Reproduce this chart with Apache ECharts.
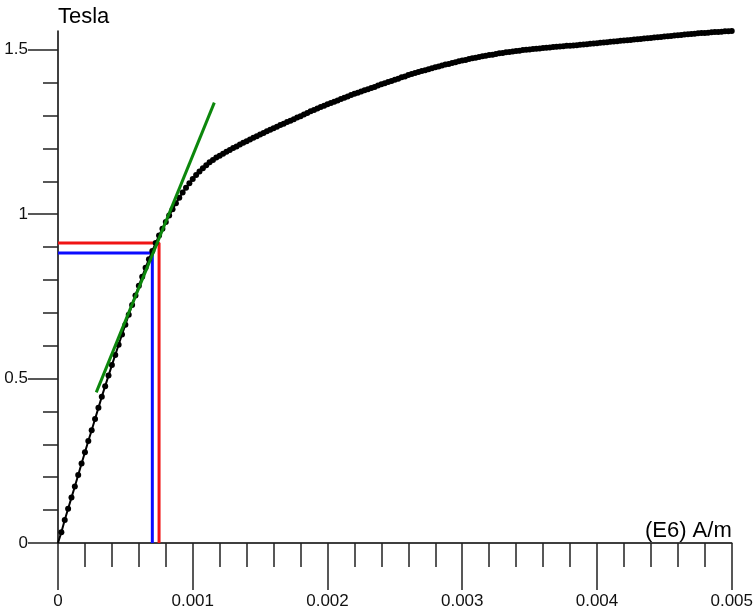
<!DOCTYPE html>
<html>
<head>
<meta charset="utf-8">
<script src="https://cdn.jsdelivr.net/npm/echarts@6/dist/echarts.min.js"></script>
<style>
  html, body { margin: 0; padding: 0; background: #ffffff; }
  #chart { width: 756px; height: 611px; }
</style>
</head>
<body>
<div id="chart"></div>
<script>
// Magnetisation curve: field strength H in A/m, flux density B in tesla
const fieldAm = [
  0, 25, 50, 75, 100, 125, 150, 175, 200, 225,
  250, 275, 300, 325, 350, 375, 400, 425, 450, 475,
  500, 525, 550, 575, 600, 625, 650, 675, 700, 725,
  750, 775, 800, 825, 850, 875, 900, 925, 950, 975,
  1000, 1025, 1050, 1075, 1100, 1125, 1150, 1175, 1200, 1225,
  1250, 1275, 1300, 1325, 1350, 1375, 1400, 1425, 1450, 1475,
  1500, 1525, 1550, 1575, 1600, 1625, 1650, 1675, 1700, 1725,
  1750, 1775, 1800, 1825, 1850, 1875, 1900, 1925, 1950, 1975,
  2000, 2025, 2050, 2075, 2100, 2125, 2150, 2175, 2200, 2225,
  2250, 2275, 2300, 2325, 2350, 2375, 2400, 2425, 2450, 2475,
  2500, 2525, 2550, 2575, 2600, 2625, 2650, 2675, 2700, 2725,
  2750, 2775, 2800, 2825, 2850, 2875, 2900, 2925, 2950, 2975,
  3000, 3025, 3050, 3075, 3100, 3125, 3150, 3175, 3200, 3225,
  3250, 3275, 3300, 3325, 3350, 3375, 3400, 3425, 3450, 3475,
  3500, 3525, 3550, 3575, 3600, 3625, 3650, 3675, 3700, 3725,
  3750, 3775, 3800, 3825, 3850, 3875, 3900, 3925, 3950, 3975,
  4000, 4025, 4050, 4075, 4100, 4125, 4150, 4175, 4200, 4225,
  4250, 4275, 4300, 4325, 4350, 4375, 4400, 4425, 4450, 4475,
  4500, 4525, 4550, 4575, 4600, 4625, 4650, 4675, 4700, 4725,
  4750, 4775, 4800, 4825, 4850, 4875, 4900, 4925, 4950, 4975,
  5000
];
const fluxB = [
  0, 0.033, 0.070, 0.104, 0.138, 0.172, 0.207, 0.242, 0.276, 0.310,
  0.343, 0.377, 0.411, 0.445, 0.477, 0.509, 0.541, 0.572, 0.603, 0.634,
  0.664, 0.694, 0.724, 0.753, 0.782, 0.810, 0.837, 0.863, 0.888, 0.912,
  0.935, 0.956, 0.976, 0.996, 1.015, 1.033, 1.050, 1.066, 1.080, 1.094,
  1.107, 1.119, 1.130, 1.140, 1.149, 1.158, 1.165, 1.172, 1.178, 1.184,
  1.190, 1.195, 1.201, 1.206, 1.212, 1.217, 1.222, 1.227, 1.232, 1.237,
  1.242, 1.247, 1.252, 1.257, 1.261, 1.266, 1.271, 1.275, 1.280, 1.284,
  1.289, 1.294, 1.298, 1.303, 1.308, 1.313, 1.317, 1.321, 1.326, 1.330,
  1.334, 1.338, 1.342, 1.346, 1.350, 1.354, 1.358, 1.362, 1.366, 1.369,
  1.373, 1.377, 1.380, 1.384, 1.387, 1.391, 1.395, 1.398, 1.402, 1.405,
  1.409, 1.412, 1.416, 1.419, 1.423, 1.426, 1.429, 1.432, 1.435, 1.438,
  1.441, 1.444, 1.447, 1.449, 1.452, 1.455, 1.457, 1.460, 1.462, 1.465,
  1.467, 1.469, 1.472, 1.474, 1.476, 1.478, 1.480, 1.482, 1.484, 1.485,
  1.487, 1.489, 1.490, 1.492, 1.493, 1.495, 1.496, 1.497, 1.499, 1.500,
  1.501, 1.502, 1.503, 1.504, 1.505, 1.506, 1.507, 1.508, 1.509, 1.510,
  1.511, 1.512, 1.512, 1.513, 1.514, 1.515, 1.516, 1.517, 1.518, 1.519,
  1.520, 1.521, 1.522, 1.523, 1.524, 1.525, 1.526, 1.527, 1.528, 1.529,
  1.530, 1.531, 1.532, 1.533, 1.534, 1.535, 1.536, 1.537, 1.538, 1.539,
  1.540, 1.541, 1.542, 1.543, 1.544, 1.545, 1.546, 1.547, 1.548, 1.549,
  1.550, 1.551, 1.551, 1.552, 1.553, 1.554, 1.554, 1.555, 1.556, 1.556,
  1.557
];

// Working-point guides (H in E6 A/m, B in T)
const redH = [0, 0.00075, 0.00075];
const redB = [0.912, 0.912, 0];
const blueH = [0, 0.0007, 0.0007];
const blueB = [0.882, 0.882, 0];
// Tangent to the linear part of the curve
const tangentH = [0.000284, 0.00116];
const tangentB = [0.458, 1.339];

const xTickValues = [0, 0.001, 0.002, 0.003, 0.004, 0.005];
const yTickValues = [0, 0.5, 1, 1.5];

const pairs = (xs, ys) => xs.map((x, i) => [x, ys[i]]);
const curveData = fieldAm.map((h, i) => [h / 1e6, fluxB[i]]);

const FONT = '"Liberation Sans", Arial, sans-serif';
const TICK = '#222222';

const chart = echarts.init(document.getElementById('chart'), null, { renderer: 'canvas' });
chart.setOption({
  animation: false,
  backgroundColor: '#ffffff',
  grid: { left: 58, right: 24, top: 31, bottom: 68, containLabel: false },
  xAxis: {
    type: 'value',
    min: xTickValues[0],
    max: xTickValues[xTickValues.length - 1],
    interval: 0.001,
    name: '(E6) A/m',
    nameLocation: 'end',
    nameGap: 0,
    nameTextStyle: {
      fontFamily: FONT, fontSize: 22, color: '#000',
      align: 'right', verticalAlign: 'bottom', padding: [0, 0, 1, 0]
    },
    axisLine: { show: true, onZero: false, lineStyle: { color: '#000', width: 1.5 } },
    axisTick: { show: true, length: 47, lineStyle: { color: TICK, width: 1.5 } },
    minorTick: { show: true, splitNumber: 5, length: 24, lineStyle: { color: TICK, width: 1.5 } },
    axisLabel: {
      margin: 50, fontFamily: FONT, fontSize: 17, color: '#111',
      verticalAlign: 'top',
      formatter: v => String(v)
    },
    splitLine: { show: false }
  },
  yAxis: {
    type: 'value',
    min: 0,
    max: 1.557,
    interval: 0.5,
    name: 'Tesla',
    nameLocation: 'end',
    nameGap: 14,
    nameTextStyle: {
      fontFamily: FONT, fontSize: 22, color: '#000',
      align: 'left', verticalAlign: 'middle'
    },
    axisLine: { show: true, onZero: false, lineStyle: { color: '#000', width: 1.5 } },
    axisTick: { show: true, length: 30, customValues: yTickValues, lineStyle: { color: TICK, width: 1.5 } },
    minorTick: { show: true, splitNumber: 5, length: 15, lineStyle: { color: TICK, width: 1.5 } },
    axisLabel: {
      margin: 30, fontFamily: FONT, fontSize: 17, color: '#111',
      customValues: yTickValues,
      formatter: v => String(v)
    },
    splitLine: { show: false }
  },
  series: [
    {
      name: 'blue',
      type: 'line',
      data: pairs(blueH, blueB),
      symbol: 'none',
      lineStyle: { color: '#0b0bff', width: 3 },
      z: 2
    },
    {
      name: 'red',
      type: 'line',
      data: pairs(redH, redB),
      symbol: 'none',
      lineStyle: { color: '#f01414', width: 3 },
      z: 2
    },
    {
      name: 'B(H)',
      type: 'line',
      data: curveData,
      symbol: 'circle',
      symbolSize: (v, p) => (p.dataIndex === 0 ? 0 : 6),
      itemStyle: { color: '#000' },
      lineStyle: { color: '#000', width: 2 },
      z: 3
    },
    {
      name: 'tangent',
      type: 'line',
      data: pairs(tangentH, tangentB),
      symbol: 'none',
      lineStyle: { color: '#0c870c', width: 3 },
      z: 4
    }
  ]
});
</script>
</body>
</html>
